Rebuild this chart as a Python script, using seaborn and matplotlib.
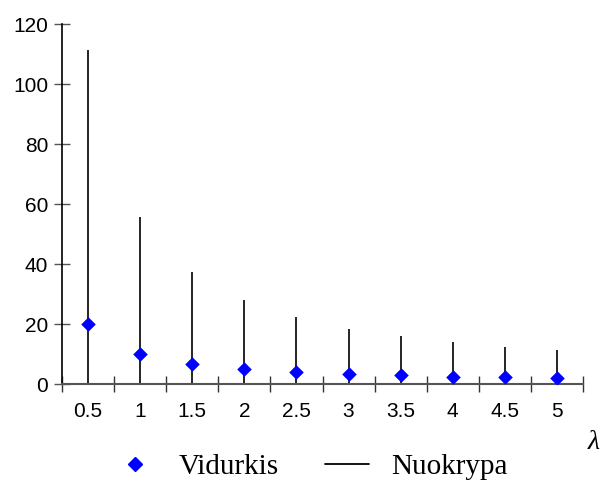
import matplotlib
matplotlib.use("Agg")
import matplotlib.pyplot as plt
import seaborn as sns
import pandas as pd
from matplotlib.lines import Line2D
from matplotlib.ticker import FixedLocator, NullFormatter

categories = ["0.5", "1", "1.5", "2", "2.5", "3", "3.5", "4", "4.5", "5"]
vidurkis = [20, 10, 6.7, 5, 4, 3.3, 2.9, 2.5, 2.2, 2]
nuokrypa = [111.3, 55.8, 37.2, 28, 22.2, 18.4, 15.9, 13.9, 12.4, 11.2]
yticks = [0, 20, 40, 60, 80, 100, 120]

df = pd.DataFrame({"lam": categories, "vid": vidurkis, "nuo": nuokrypa})

sns.set_theme(style="white")
plt.rcParams["font.family"] = ["Liberation Sans", "DejaVu Sans"]
plt.rcParams["text.color"] = "black"
plt.rcParams["xtick.color"] = "black"
plt.rcParams["ytick.color"] = "black"

fig = plt.figure(figsize=(6.05, 4.86), dpi=100)
ax = fig.add_axes([62 / 605, 102 / 486, (583 - 62) / 605, (384 - 24) / 486])

pos = list(range(len(categories)))
ax.vlines(pos, 0, df["nuo"], color="black", linewidth=1.2, zorder=2)
sns.scatterplot(data=df, x="lam", y="vid", marker="D", color="#0000FF",
                s=55, edgecolor="#0000FF", linewidth=0, zorder=3, ax=ax)

ax.set_xlim(-0.5, len(categories) - 0.5)
ax.set_ylim(0, 120)
ax.set_yticks(yticks)
ax.set_yticklabels([str(v) for v in yticks], fontsize=15, color="black")

ax.xaxis.set_major_locator(FixedLocator([i - 0.5 for i in range(len(categories) + 1)]))
ax.xaxis.set_major_formatter(NullFormatter())
ax.xaxis.set_minor_locator(FixedLocator(pos))
ax.set_xticklabels(categories, minor=True, fontsize=15, color="black")
ax.tick_params(axis="x", which="minor", bottom=True, length=0, pad=13)
ax.tick_params(axis="x", which="major", bottom=True, direction="inout", length=12,
               width=1, color="#333333")
ax.tick_params(axis="y", which="major", left=True, direction="inout", length=12,
               width=1, color="#555555", pad=4)
ax.set_xlabel("")
ax.set_ylabel("")

for s in ["top", "right"]:
    ax.spines[s].set_visible(False)
ax.spines["left"].set_color("black")
ax.spines["left"].set_linewidth(1.2)
ax.spines["bottom"].set_color("#555555")
ax.spines["bottom"].set_linewidth(1.5)

fig.text(588 / 605, 1 - 442 / 486, "λ", fontsize=20, style="italic",
         family=["Liberation Serif", "DejaVu Serif"], ha="left", va="center")

handles = [
    Line2D([], [], marker="D", color="#0000FF", linestyle="none", markersize=7),
    Line2D([], [], color="black", linewidth=1.3),
]
fig.legend(handles, ["Vidurkis", "Nuokrypa"], loc="center", ncol=2,
           bbox_to_anchor=(310 / 605, 1 - 467 / 486), frameon=False,
           prop={"family": ["Liberation Serif", "DejaVu Serif"], "size": 21},
           handlelength=1.5, columnspacing=1.6, handletextpad=0.75)

fig.savefig("out.png", dpi=100)
